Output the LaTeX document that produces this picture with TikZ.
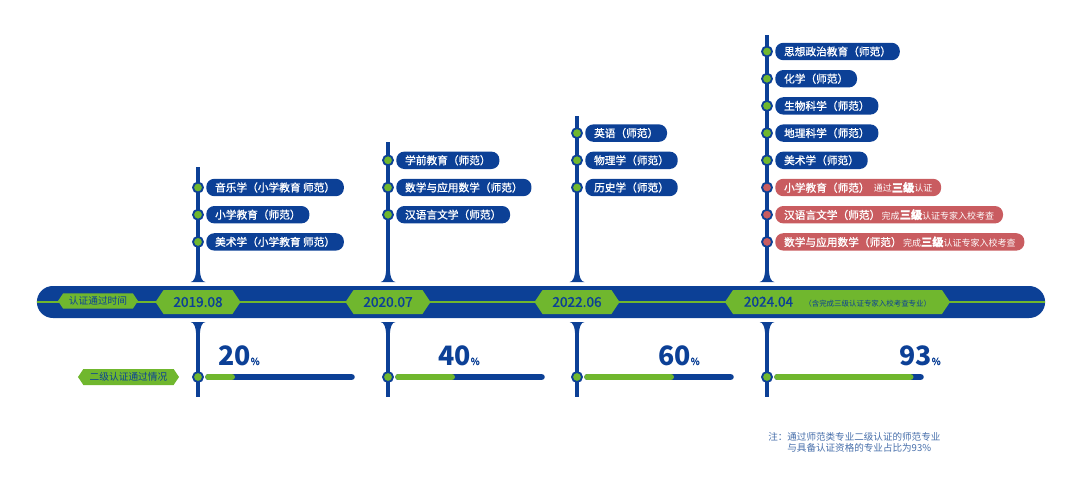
\documentclass[tikz,border=0pt]{standalone}
\usepackage{fontspec}
\setmainfont{Noto Sans CJK SC}
\newfontfamily\medfont{Noto Sans CJK SC}[FakeBold=1.2]
\usepackage{tikz}
\usetikzlibrary{positioning, shapes.misc, shapes.symbols}
\definecolor{tlblue}{RGB}{12,64,150}
\definecolor{tlgreen}{RGB}{112,183,46}
\definecolor{tlred}{RGB}{201,92,96}
\definecolor{notecol}{RGB}{70,110,170}
\newcommand{\smalltxt}[1]{{\fontsize{6.4}{7}\selectfont\rmfamily #1}}
\newcommand{\levtxt}[1]{{\fontsize{8}{9}\selectfont\bfseries #1}}
\tikzset{
  band/.style={rounded rectangle, fill=tlblue, inner sep=0pt, minimum width=25.2cm,
    minimum height=0.8cm},
  midline/.style={tlgreen, line width=1.4pt},
  datehex/.style={signal, signal to=east and west, signal pointer angle=112, fill=tlgreen,
    text=tlblue, inner sep=0pt, minimum height=0.6cm, minimum width=2.125cm,
    font=\fontsize{9.7}{10}\selectfont\medfont},
  taghex/.style={signal, signal to=east and west, signal pointer angle=112, fill=tlgreen,
    text=tlblue, inner sep=0pt, minimum height=0.38cm, font=\fontsize{6.9}{8}\selectfont},
  stem/.style={tlblue, line width=2.5pt},
  dot/.style={circle, fill=tlgreen, draw=tlblue, line width=1.3pt, minimum size=0.25cm,
    inner sep=0pt},
  reddot/.style={dot, fill=tlred},
  major/.style={fill=tlblue, text=white, rounded corners=0.2cm, inner xsep=0.22cm,
    inner ysep=0pt, minimum height=0.435cm, font=\fontsize{7.6}{9}\selectfont\medfont},
  redmajor/.style={major, fill=tlred},
  bar/.style={line width=4.7pt, line cap=round},
  pct/.style={text=tlblue, inner sep=0pt, anchor=base east},
  flareup/.pic={\fill[tlblue] (-1.75,-16) .. controls (-1.75,-5) and (-4,0) .. (-7.5,0)
    -- (7.5,0) .. controls (4,0) and (1.75,-5) .. (1.75,-16) -- cycle;},
  flaredown/.pic={\fill[tlblue] (-1.75,16) .. controls (-1.75,5) and (-4,0) .. (-7.5,0)
    -- (7.5,0) .. controls (4,0) and (1.75,5) .. (1.75,16) -- cycle;}
}

\begin{document}
\begin{tikzpicture}[x=0.025cm, y=-0.025cm]
  \useasboundingbox (0,0) rectangle (1080,488);

  % === Timeline band ===
  \node[band] (band) at (541,302) {};
  \draw[midline] (band.west) -- (band.east);
  \node[taghex, minimum width=2cm] (timetag) at (98,301) {认证通过时间};
  \node[datehex] (d2019) at (198,302) {2019.08};
  \node[datehex] (d2020) at (388,302) {2020.07};
  \node[datehex] (d2022) at (577,302) {2022.06};
  \node[datehex, minimum width=5.625cm] (d2024) at (837.5,302)
    {2024.04\hspace{8pt}{\fontsize{5.3}{6}\selectfont\rmfamily（含完成三级认证专家入校考查专业）}};

  % === Upper stems ===
  \coordinate (t19) at (198,167);
  \coordinate (f19) at (198,282);
  \coordinate (t20) at (388,142);
  \coordinate (f20) at (388,282);
  \coordinate (t22) at (577,116);
  \coordinate (f22) at (577,282);
  \coordinate (t24) at (767,35);
  \coordinate (f24) at (767,282);
  \draw[stem] (t19) -- (f19);
  \draw[stem] (t20) -- (f20);
  \draw[stem] (t22) -- (f22);
  \draw[stem] (t24) -- (f24);
  \pic at (f19) {flareup};
  \pic at (f20) {flareup};
  \pic at (f22) {flareup};
  \pic at (f24) {flareup};

  % 2019.08
  \node[dot] (c19a) at (198,187.5) {};
  \node[dot] (c19b) at (198,214.7) {};
  \node[dot] (c19c) at (198,241.9) {};
  \node[major, right=1.5pt of c19a] (m19a) {音乐学（小学教育 师范）};
  \node[major, right=1.5pt of c19b] (m19b) {小学教育（师范）};
  \node[major, right=1.5pt of c19c] (m19c) {美术学（小学教育 师范）};

  % 2020.07
  \node[dot] (c20a) at (388,160.3) {};
  \node[dot] (c20b) at (388,187.5) {};
  \node[dot] (c20c) at (388,214.7) {};
  \node[major, right=1.5pt of c20a] (m20a) {学前教育（师范）};
  \node[major, right=1.5pt of c20b] (m20b) {数学与应用数学（师范）};
  \node[major, right=1.5pt of c20c] (m20c) {汉语言文学（师范）};

  % 2022.06
  \node[dot] (c22a) at (577,133.1) {};
  \node[dot] (c22b) at (577,160.3) {};
  \node[dot] (c22c) at (577,187.5) {};
  \node[major, right=1.5pt of c22a] (m22a) {英语（师范）};
  \node[major, right=1.5pt of c22b] (m22b) {物理学（师范）};
  \node[major, right=1.5pt of c22c] (m22c) {历史学（师范）};

  % 2024.04
  \node[dot] (c24a) at (767,51.5) {};
  \node[dot] (c24b) at (767,78.7) {};
  \node[dot] (c24c) at (767,105.9) {};
  \node[dot] (c24d) at (767,133.1) {};
  \node[dot] (c24e) at (767,160.3) {};
  \node[reddot] (c24f) at (767,187.5) {};
  \node[reddot] (c24g) at (767,214.7) {};
  \node[reddot] (c24h) at (767,241.9) {};
  \node[major, right=1.5pt of c24a] (m24a) {思想政治教育（师范）};
  \node[major, right=1.5pt of c24b] (m24b) {化学（师范）};
  \node[major, right=1.5pt of c24c] (m24c) {生物科学（师范）};
  \node[major, right=1.5pt of c24d] (m24d) {地理科学（师范）};
  \node[major, right=1.5pt of c24e] (m24e) {美术学（师范）};
  \node[redmajor, right=1.5pt of c24f] (m24f)
    {小学教育（师范）\hspace{3pt}\smalltxt{通过}\levtxt{三级}\smalltxt{认证}};
  \node[redmajor, right=1.5pt of c24g] (m24g)
    {汉语言文学（师范）\hspace{1pt}\smalltxt{完成}\levtxt{三级}\smalltxt{认证专家入校考查}};
  \node[redmajor, right=1.5pt of c24h] (m24h)
    {数学与应用数学（师范）\hspace{1pt}\smalltxt{完成}\levtxt{三级}\smalltxt{认证专家入校考查}};

  % === Lower stems and progress bars ===
  \coordinate (g19) at (198,322);
  \coordinate (e19) at (198,397);
  \coordinate (g20) at (388,322);
  \coordinate (e20) at (388,397);
  \coordinate (g22) at (577,322);
  \coordinate (e22) at (577,397);
  \coordinate (g24) at (767,322);
  \coordinate (e24) at (767,397);
  \draw[stem] (g19) -- (e19);
  \draw[stem] (g20) -- (e20);
  \draw[stem] (g22) -- (e22);
  \draw[stem] (g24) -- (e24);
  \pic at (g19) {flaredown};
  \pic at (g20) {flaredown};
  \pic at (g22) {flaredown};
  \pic at (g24) {flaredown};

  \node[taghex, minimum width=2.525cm, minimum height=0.4cm] (passtag) at (128.5,377) {二级认证通过情况};

  \coordinate (b19s) at (208.5,377);
  \coordinate (b19e) at (351.5,377);
  \coordinate (b19g) at (231.7,377);
  \coordinate (b20s) at (398.5,377);
  \coordinate (b20e) at (541.5,377);
  \coordinate (b20g) at (451.7,377);
  \coordinate (b22s) at (587.5,377);
  \coordinate (b22e) at (730.5,377);
  \coordinate (b22g) at (670.7,377);
  \coordinate (b24s) at (777.5,377);
  \coordinate (b24e) at (920.5,377);
  \coordinate (b24g) at (910.2,377);
  \draw[bar, tlblue] (b19s) -- (b19e);
  \draw[bar, tlgreen] (b19s) -- (b19g);
  \draw[bar, tlblue] (b20s) -- (b20e);
  \draw[bar, tlgreen] (b20s) -- (b20g);
  \draw[bar, tlblue] (b22s) -- (b22e);
  \draw[bar, tlgreen] (b22s) -- (b22g);
  \draw[bar, tlblue] (b24s) -- (b24e);
  \draw[bar, tlgreen] (b24s) -- (b24g);

  \node[dot] (s19) at (198,377) {};
  \node[dot] (s20) at (388,377) {};
  \node[dot] (s22) at (577,377) {};
  \node[dot] (s24) at (767,377) {};

  \node[pct] (p19) at (260,365) {{\fontsize{19}{20}\selectfont\bfseries 20}{\fontsize{7}{8}\selectfont\medfont\%}};
  \node[pct] (p20) at (480,365) {{\fontsize{19}{20}\selectfont\bfseries 40}{\fontsize{7}{8}\selectfont\medfont\%}};
  \node[pct] (p22) at (700,365) {{\fontsize{19}{20}\selectfont\bfseries 60}{\fontsize{7}{8}\selectfont\medfont\%}};
  \node[pct] (p24) at (941,365) {{\fontsize{19}{20}\selectfont\bfseries 93}{\fontsize{7}{8}\selectfont\medfont\%}};

  % === Note ===
  \node[anchor=north west, align=left, inner sep=0pt, text=notecol,
        font=\fontsize{6.8}{8}\selectfont] (note) at (768,432)
    {注：通过师范类专业二级认证的师范专业\\\phantom{注：}与具备认证资格的专业占比为93\%};
\end{tikzpicture}
\end{document}
